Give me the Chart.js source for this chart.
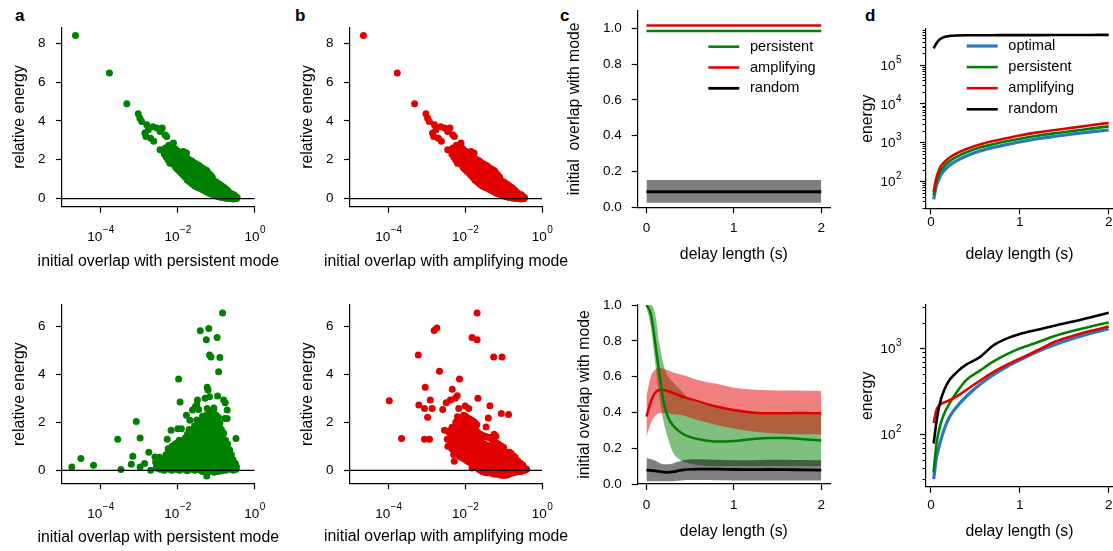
<!DOCTYPE html>
<html><head><meta charset="utf-8"><title>overlap and energy</title>
<script src="https://cdn.jsdelivr.net/npm/chart.js"></script>
<style>
html,body{margin:0;padding:0;background:#fff;}
#wrap{position:relative;width:1113px;height:551px;overflow:hidden;background:#fff;}
#wrap canvas{position:absolute;left:0;top:0;}
.t{position:absolute;font-family:"Liberation Sans",Arial,sans-serif;color:#000;line-height:20px;white-space:nowrap;}
.p{font-weight:bold;font-size:17px;}
</style></head><body>
<div id="wrap">
<div class="t p" style="left:15px;top:6px">a</div>
<div class="t p" style="left:295px;top:6px">b</div>
<div class="t p" style="left:560px;top:6px">c</div>
<div class="t p" style="left:865px;top:6px">d</div>
</div>
<script>
// ---------------- DATA ----------------
// top row scatter (a and b show the same cloud)
const topOverlap = [
2.24e-5,1.7e-4,4.8e-4,9.5e-4,1.05e-3,1.17e-3,1.58e-3,1.74e-3,1.41e-3,1.51e-3,
2.9e-3,3.5e-3,4.0e-3,4.7e-3,5.2e-3,7.8e-3,3.5e-3,5.2e-3,6.3e-3,6.3e-3,
1.41e-2,1.7e-2,2.3e-3,2.0e-3,2.4e-3,
4.5e-3,4.8e-3,
5.6e-3,5.4e-3,5.9e-3,
7.1e-3,6.8e-3,7.4e-3,
8.9e-3,8.5e-3,9.3e-3,8.7e-3,
1.12e-2,1.08e-2,1.16e-2,1.1e-2,
1.41e-2,1.36e-2,1.46e-2,1.4e-2,
1.78e-2,1.72e-2,1.84e-2,1.76e-2,1.8e-2,
2.24e-2,2.16e-2,2.3e-2,2.2e-2,2.27e-2,
2.82e-2,2.72e-2,2.9e-2,2.78e-2,2.86e-2,
3.55e-2,3.45e-2,3.65e-2,3.5e-2,3.6e-2,
4.47e-2,4.3e-2,4.6e-2,4.4e-2,4.55e-2,
5.62e-2,5.45e-2,5.8e-2,5.5e-2,5.7e-2,
7.08e-2,6.9e-2,7.3e-2,7.0e-2,7.2e-2,
8.91e-2,8.6e-2,9.2e-2,8.8e-2,
0.112,0.108,0.116,0.11,
0.141,0.136,0.146,0.14,
0.178,0.172,0.184,0.176,
0.224,0.216,0.232,
0.282,0.272,0.29,
0.339,0.35];
const topEnergy = [
8.4,6.46,4.88,4.37,4.14,3.97,3.80,3.54,3.37,3.20,
3.63,3.45,3.63,3.28,3.20,2.86,2.51,2.16,2.68,1.82,
2.42,2.34,3.70,3.10,2.95,
2.3,2.6,
2.0,2.4,2.75,
1.85,2.2,2.55,
1.6,1.95,2.3,2.55,
1.4,1.75,2.1,2.35,
1.2,1.5,1.8,2.1,
0.95,1.3,1.6,1.9,2.05,
0.8,1.1,1.4,1.7,1.95,
0.65,0.95,1.25,1.55,1.8,
0.55,0.8,1.1,1.4,1.7,
0.45,0.7,0.95,1.25,1.55,
0.35,0.6,0.85,1.1,1.45,
0.25,0.5,0.75,1.0,1.2,
0.18,0.4,0.65,0.9,
0.1,0.3,0.55,0.8,
0.06,0.25,0.45,0.65,
0.02,0.18,0.35,0.5,
0.0,0.12,0.28,
-0.02,0.08,0.2,
0.0,0.06];
const topOverlapMore = [
5.0e-3,5.0e-3,
6.3e-3,6.3e-3,6.3e-3,
7.9e-3,7.9e-3,7.9e-3,
1.0e-2,1.0e-2,1.0e-2,1.0e-2,
1.26e-2,1.26e-2,1.26e-2,1.26e-2,
1.58e-2,1.58e-2,1.58e-2,1.58e-2,
2.0e-2,2.0e-2,2.0e-2,2.0e-2,2.0e-2,
2.5e-2,2.5e-2,2.5e-2,2.5e-2,2.5e-2,
3.16e-2,3.16e-2,3.16e-2,3.16e-2,3.16e-2,
4.0e-2,4.0e-2,4.0e-2,4.0e-2,4.0e-2,
5.0e-2,5.0e-2,5.0e-2,5.0e-2,5.0e-2,
6.3e-2,6.3e-2,6.3e-2,6.3e-2,6.3e-2,
7.9e-2,7.9e-2,7.9e-2,7.9e-2,7.9e-2,
0.1,0.1,0.1,0.1,
0.126,0.126,0.126,0.126,
0.158,0.158,0.158,0.158,
0.2,0.2,0.2,0.2,
0.251,0.251,0.251,
0.316,0.316];
const topEnergyMore = [
2.15,2.5,
1.95,2.3,2.6,
1.75,2.1,2.45,
1.5,1.85,2.2,2.45,
1.3,1.65,1.95,2.25,
1.1,1.4,1.7,1.98,
0.88,1.2,1.5,1.8,2.0,
0.72,1.02,1.32,1.62,1.88,
0.6,0.88,1.18,1.48,1.75,
0.5,0.75,1.02,1.32,1.62,
0.4,0.65,0.9,1.18,1.5,
0.3,0.55,0.8,1.05,1.32,
0.22,0.45,0.7,0.95,1.1,
0.14,0.35,0.6,0.85,
0.08,0.28,0.5,0.72,
0.04,0.22,0.4,0.58,
0.01,0.15,0.3,0.42,
-0.01,0.1,0.22,
0.0,0.1];

// bottom row, panel a (persistent)
const botPersOverlap = [
1.8e-5,3.1e-5,6.6e-5,2.8e-4,3.4e-4,8.5e-4,6.9e-4,6.3e-4,1.07e-3,1.07e-3,
1.4e-3,1.8e-3,2.0e-3,2.6e-3,2.9e-3,1.07e-2,1.17e-2,6.8e-3,5.4e-3,1.02e-2,
1.26e-2,1.7e-2,2.1e-2,2.45e-2,2.9e-2,3.3e-2,3.9e-2,6.5e-2,5.6e-2,0.107,
0.148,6.8e-2,7.4e-2,0.126,0.117,5.9e-2,6.2e-2,5.2e-2,6.8e-2,0.11,
0.158,0.174,0.195,0.17,0.195,0.33,3.16e-2,3.55e-2,5.9e-2,8.7e-2,
5.75e-2,
2.8e-3,2.7e-3,
3.5e-3,3.6e-3,3.4e-3,
4.5e-3,4.4e-3,4.6e-3,
5.6e-3,5.8e-3,5.5e-3,5.7e-3,
7.1e-3,6.9e-3,7.3e-3,7.0e-3,7.2e-3,
8.9e-3,9.2e-3,8.7e-3,9.0e-3,8.8e-3,
1.12e-2,1.09e-2,1.15e-2,1.1e-2,1.14e-2,1.11e-2,
1.41e-2,1.45e-2,1.38e-2,1.43e-2,1.4e-2,
1.78e-2,1.74e-2,1.82e-2,1.76e-2,1.8e-2,1.75e-2,1.81e-2,
2.24e-2,2.3e-2,2.18e-2,2.27e-2,2.2e-2,2.26e-2,2.22e-2,
2.82e-2,2.75e-2,2.9e-2,2.78e-2,2.86e-2,2.8e-2,2.84e-2,2.77e-2,
3.55e-2,3.65e-2,3.45e-2,3.6e-2,3.5e-2,3.58e-2,3.52e-2,3.62e-2,
4.47e-2,4.6e-2,4.35e-2,4.55e-2,4.4e-2,4.5e-2,4.42e-2,4.58e-2,4.45e-2,
5.62e-2,5.5e-2,5.75e-2,5.55e-2,5.7e-2,5.6e-2,5.66e-2,5.52e-2,5.72e-2,5.58e-2,
7.08e-2,6.9e-2,7.25e-2,7.0e-2,7.15e-2,6.95e-2,7.2e-2,7.05e-2,6.98e-2,7.12e-2,
8.91e-2,8.7e-2,9.1e-2,8.8e-2,9.0e-2,8.75e-2,9.05e-2,8.85e-2,8.95e-2,8.8e-2,
0.112,0.109,0.115,0.11,0.114,0.111,0.113,0.108,0.116,
0.141,0.145,0.137,0.143,0.139,0.144,0.14,0.138,
0.178,0.172,0.184,0.175,0.181,0.176,
0.224,0.232,0.218,0.228,
0.282,0.29,0.275,
0.331,0.34];
const botPersEnergy = [
0.14,0.49,0.21,1.30,0.04,2.04,0.59,0.25,1.35,0.14,
0.28,0.75,0.0,0.56,0.21,3.81,2.85,1.67,1.30,1.73,
1.73,2.30,2.09,2.51,2.65,2.93,5.82,5.91,5.44,5.54,
6.56,4.81,4.72,4.70,4.11,3.46,3.35,3.0,3.07,3.10,
2.93,2.82,2.51,2.16,2.16,1.33,2.72,2.54,2.58,2.51,
-0.24,
0.1,0.35,
0.05,0.3,0.55,
0.0,0.25,0.5,
0.1,0.35,0.6,0.9,
0.0,0.2,0.45,0.75,1.0,
0.05,0.3,0.55,0.8,1.1,
0.0,0.2,0.45,0.7,1.0,1.25,
0.05,0.3,0.55,0.85,1.1,
-0.02,0.2,0.45,0.7,0.95,1.2,1.5,
0.05,0.3,0.55,0.8,1.05,1.35,1.6,
0.0,0.2,0.45,0.7,0.95,1.2,1.5,1.85,
0.05,0.3,0.55,0.8,1.05,1.3,1.6,2.0,
-0.05,0.15,0.4,0.65,0.9,1.15,1.4,1.7,2.25,
-0.1,0.1,0.35,0.6,0.85,1.1,1.35,1.6,1.9,2.3,
-0.05,0.2,0.45,0.7,0.95,1.2,1.5,1.8,2.1,2.45,
-0.08,0.1,0.35,0.6,0.85,1.1,1.4,1.7,2.0,2.6,
-0.05,0.2,0.45,0.7,0.95,1.2,1.5,1.8,2.2,
-0.03,0.15,0.4,0.65,0.9,1.15,1.45,1.7,
0.0,0.25,0.5,0.75,1.0,1.25,
0.05,0.3,0.55,0.85,
0.0,0.2,0.45,
0.05,0.15];
const botPersOverlapMore = [
3.16e-3,3.16e-3,
3.98e-3,3.98e-3,
5.0e-3,5.0e-3,5.0e-3,
6.3e-3,6.3e-3,6.3e-3,6.3e-3,
7.9e-3,7.9e-3,7.9e-3,7.9e-3,
1.0e-2,1.0e-2,1.0e-2,1.0e-2,1.0e-2,
1.26e-2,1.26e-2,1.26e-2,1.26e-2,1.26e-2,
1.58e-2,1.58e-2,1.58e-2,1.58e-2,1.58e-2,1.58e-2,
2.0e-2,2.0e-2,2.0e-2,2.0e-2,2.0e-2,2.0e-2,2.0e-2,
2.5e-2,2.5e-2,2.5e-2,2.5e-2,2.5e-2,2.5e-2,2.5e-2,
3.16e-2,3.16e-2,3.16e-2,3.16e-2,3.16e-2,3.16e-2,3.16e-2,3.16e-2,
4.0e-2,4.0e-2,4.0e-2,4.0e-2,4.0e-2,4.0e-2,4.0e-2,4.0e-2,
5.0e-2,5.0e-2,5.0e-2,5.0e-2,5.0e-2,5.0e-2,5.0e-2,5.0e-2,5.0e-2,
6.3e-2,6.3e-2,6.3e-2,6.3e-2,6.3e-2,6.3e-2,6.3e-2,6.3e-2,6.3e-2,
7.9e-2,7.9e-2,7.9e-2,7.9e-2,7.9e-2,7.9e-2,7.9e-2,7.9e-2,7.9e-2,
0.1,0.1,0.1,0.1,0.1,0.1,0.1,0.1,0.1,
0.126,0.126,0.126,0.126,0.126,0.126,0.126,0.126,
0.158,0.158,0.158,0.158,0.158,0.158,0.158,
0.2,0.2,0.2,0.2,0.2,
0.251,0.251,0.251,
0.316,0.316];
const botPersEnergyMore = [
0.2,0.45,
0.15,0.4,
0.12,0.38,0.65,
0.05,0.3,0.55,0.8,
0.15,0.4,0.65,0.92,
0.1,0.35,0.6,0.85,1.15,
0.15,0.4,0.65,0.95,1.2,
0.1,0.35,0.6,0.85,1.1,1.35,
0.1,0.35,0.6,0.85,1.1,1.4,1.7,
0.15,0.4,0.65,0.9,1.15,1.4,1.7,
0.1,0.35,0.6,0.85,1.1,1.35,1.7,2.1,
0.0,0.25,0.5,0.75,1.0,1.25,1.5,1.85,
0.0,0.25,0.5,0.75,1.0,1.25,1.5,1.8,2.1,
0.0,0.22,0.48,0.72,0.98,1.22,1.48,1.75,2.05,
0.05,0.3,0.55,0.8,1.05,1.3,1.6,1.9,2.25,
0.0,0.22,0.48,0.72,0.98,1.25,1.55,1.85,2.3,
0.05,0.3,0.55,0.8,1.05,1.3,1.6,1.95,
0.05,0.28,0.52,0.78,1.02,1.3,1.55,
0.12,0.38,0.62,0.9,1.1,
0.15,0.4,0.65,
0.1,0.3];

// bottom row, panel b (amplifying)
const botAmpOverlap = [
1.05e-4,2.2e-4,6.0e-4,6.2e-4,9.1e-4,8.7e-4,1.38e-3,1.23e-3,1.05e-3,8.7e-4,
1.17e-3,1.55e-3,1.82e-3,2.14e-3,2.6e-3,3.2e-3,4.1e-3,5.5e-3,6.2e-3,4.6e-3,
7.1e-3,2.9e-3,1.51e-2,2.04e-2,2.04e-2,5.5e-2,9.1e-2,2.14e-2,4.4e-2,8.7e-2,
0.135,4.0e-2,3.5e-2,1.0e-2,1.23e-2,6.8e-3,6.3e-3,5.0e-3,5.2e-3,1.51e-2,
3.55e-3,3.4e-3,3.7e-3,
4.47e-3,4.6e-3,4.35e-3,4.55e-3,
5.62e-3,5.5e-3,5.75e-3,5.55e-3,5.7e-3,
7.08e-3,7.25e-3,6.9e-3,7.15e-3,7.0e-3,7.2e-3,
8.91e-3,8.7e-3,9.1e-3,8.8e-3,9.0e-3,8.75e-3,9.05e-3,
1.12e-2,1.15e-2,1.09e-2,1.14e-2,1.1e-2,1.13e-2,1.11e-2,
1.41e-2,1.37e-2,1.45e-2,1.39e-2,1.43e-2,1.4e-2,1.44e-2,
1.78e-2,1.83e-2,1.73e-2,1.8e-2,1.75e-2,1.81e-2,1.76e-2,
2.24e-2,2.18e-2,2.3e-2,2.2e-2,2.27e-2,2.22e-2,
2.82e-2,2.9e-2,2.75e-2,2.86e-2,2.78e-2,2.84e-2,
3.55e-2,3.45e-2,3.65e-2,3.5e-2,3.6e-2,3.52e-2,
4.47e-2,4.6e-2,4.35e-2,4.55e-2,4.4e-2,4.5e-2,
5.62e-2,5.5e-2,5.75e-2,5.55e-2,5.7e-2,5.6e-2,5.66e-2,
7.08e-2,7.25e-2,6.9e-2,7.15e-2,7.0e-2,7.2e-2,
8.91e-2,8.7e-2,9.1e-2,8.8e-2,9.0e-2,8.75e-2,
0.112,0.115,0.109,0.114,0.11,
0.141,0.137,0.145,0.139,0.143,
0.178,0.184,0.172,0.181,
0.224,0.218,0.23,
0.282,0.29,0.275,
0.355,0.345,
0.398];
const botAmpEnergy = [
2.90,1.33,4.81,2.72,3.46,2.58,2.58,2.93,2.21,1.30,
1.30,5.83,5.93,4.13,2.54,2.82,2.93,3.0,3.11,3.38,
3.81,1.67,5.54,5.44,6.56,4.72,4.72,3.0,2.69,2.37,
2.33,2.18,1.81,2.68,2.58,2.58,2.23,0.66,0.38,0.10,
1.0,1.3,1.6,
0.9,1.2,1.5,1.8,
0.75,1.05,1.35,1.65,2.0,
0.6,0.9,1.2,1.5,1.8,2.2,
0.5,0.8,1.1,1.4,1.7,2.0,2.3,
0.4,0.7,1.0,1.3,1.6,1.9,2.2,
0.3,0.6,0.9,1.2,1.5,1.8,2.1,
0.2,0.5,0.8,1.1,1.4,1.7,2.0,
0.05,0.35,0.65,0.95,1.25,1.55,
-0.05,0.25,0.55,0.85,1.15,1.45,
-0.1,0.15,0.45,0.75,1.05,1.4,
-0.1,0.15,0.4,0.7,1.0,1.35,
-0.15,0.1,0.35,0.6,0.9,1.2,1.5,
-0.15,0.1,0.35,0.6,0.85,1.1,
-0.2,0.05,0.3,0.55,0.8,1.0,
-0.2,0.0,0.25,0.5,0.75,
-0.15,0.05,0.3,0.55,0.75,
-0.1,0.1,0.35,0.6,
-0.05,0.15,0.4,
-0.05,0.15,0.3,
0.0,0.1,
0.05];
const botAmpOverlapMore = [
3.98e-3,3.98e-3,3.98e-3,
5.0e-3,5.0e-3,5.0e-3,5.0e-3,
6.3e-3,6.3e-3,6.3e-3,6.3e-3,6.3e-3,
7.9e-3,7.9e-3,7.9e-3,7.9e-3,7.9e-3,7.9e-3,
1.0e-2,1.0e-2,1.0e-2,1.0e-2,1.0e-2,1.0e-2,1.0e-2,
1.26e-2,1.26e-2,1.26e-2,1.26e-2,1.26e-2,1.26e-2,1.26e-2,
1.58e-2,1.58e-2,1.58e-2,1.58e-2,1.58e-2,1.58e-2,1.58e-2,
2.0e-2,2.0e-2,2.0e-2,2.0e-2,2.0e-2,2.0e-2,2.0e-2,
2.5e-2,2.5e-2,2.5e-2,2.5e-2,2.5e-2,2.5e-2,
3.16e-2,3.16e-2,3.16e-2,3.16e-2,3.16e-2,3.16e-2,
4.0e-2,4.0e-2,4.0e-2,4.0e-2,4.0e-2,4.0e-2,
5.0e-2,5.0e-2,5.0e-2,5.0e-2,5.0e-2,5.0e-2,
6.3e-2,6.3e-2,6.3e-2,6.3e-2,6.3e-2,6.3e-2,6.3e-2,
7.9e-2,7.9e-2,7.9e-2,7.9e-2,7.9e-2,7.9e-2,
0.1,0.1,0.1,0.1,0.1,0.1,
0.126,0.126,0.126,0.126,0.126,
0.158,0.158,0.158,0.158,0.158,
0.2,0.2,0.2,0.2,
0.251,0.251,0.251,
0.316,0.316,0.316];
const botAmpEnergyMore = [
1.05,1.35,1.65,
0.85,1.15,1.45,1.8,
0.7,1.0,1.3,1.6,1.9,
0.55,0.85,1.15,1.45,1.75,2.1,
0.45,0.75,1.05,1.35,1.65,1.95,2.25,
0.35,0.65,0.95,1.25,1.55,1.85,2.15,
0.25,0.55,0.85,1.15,1.45,1.75,2.05,
0.12,0.42,0.72,1.02,1.32,1.62,1.9,
0.0,0.3,0.6,0.9,1.2,1.5,
-0.08,0.2,0.5,0.8,1.1,1.42,
-0.1,0.15,0.42,0.72,1.02,1.38,
-0.12,0.12,0.38,0.65,0.95,1.28,
-0.15,0.1,0.35,0.6,0.88,1.15,1.42,
-0.18,0.08,0.32,0.58,0.82,1.05,
-0.2,0.02,0.28,0.52,0.78,0.95,
-0.18,0.02,0.28,0.52,0.75,
-0.12,0.08,0.32,0.55,0.7,
-0.08,0.12,0.35,0.55,
-0.05,0.12,0.32,
-0.02,0.12,0.22];

// panel c, top: initial overlap with mode vs delay
const delayTopC = [0, 2];
const persTopC = [0.985, 0.985];
const ampTopC = [1.015, 1.015];
const randTopC = [0.087, 0.087];
const randTopHiC = [0.152, 0.152];
const randTopLoC = [0.026, 0.026];

// panel c, bottom
const delayC = [0,0.05,0.1,0.15,0.2,0.25,0.3,0.4,0.5,0.6,0.8,1.0,1.2,1.4,1.6,1.8,2.0];
const persMeanC = [1.0,0.95,0.79,0.61,0.45,0.37,0.33,0.285,0.262,0.25,0.237,0.24,0.25,0.257,0.257,0.25,0.243];
const persHiC = [1.0,1.0,0.95,0.78,0.66,0.6,0.57,0.52,0.47,0.45,0.43,0.41,0.405,0.4,0.4,0.395,0.39];
const persLoC = [0.99,0.88,0.68,0.48,0.34,0.25,0.18,0.13,0.115,0.105,0.1,0.1,0.1,0.1,0.1,0.1,0.1];
const ampMeanC = [0.376,0.46,0.51,0.525,0.525,0.518,0.51,0.49,0.475,0.46,0.433,0.413,0.40,0.395,0.395,0.397,0.395];
const ampHiC = [0.49,0.6,0.64,0.648,0.643,0.635,0.625,0.61,0.595,0.58,0.56,0.538,0.528,0.524,0.522,0.521,0.52];
const ampLoC = [0.264,0.34,0.38,0.395,0.397,0.395,0.39,0.385,0.37,0.355,0.33,0.31,0.295,0.285,0.28,0.278,0.277];
const randMeanC = [0.078,0.076,0.073,0.07,0.066,0.065,0.068,0.077,0.082,0.083,0.083,0.081,0.08,0.081,0.08,0.079,0.078];
const randHiC = [0.145,0.14,0.13,0.118,0.11,0.11,0.115,0.13,0.138,0.138,0.135,0.133,0.132,0.135,0.136,0.134,0.132];
const randLoC = [0.015,0.015,0.015,0.015,0.015,0.015,0.016,0.02,0.022,0.022,0.021,0.02,0.02,0.02,0.02,0.02,0.02];

// panel d: energy vs delay
const delayD = [0.03,0.06,0.1,0.15,0.21,0.3,0.4,0.55,0.7,0.85,1.0,1.2,1.4,1.6,1.8,2.0];
const optTopD = [34,75,130,190,260,350,450,600,740,880,1040,1250,1450,1660,1880,2100];
const persTopD = [44,95,170,245,330,440,560,740,900,1070,1250,1500,1740,1990,2280,2600];
const ampTopD = [53,120,220,310,410,540,680,890,1090,1290,1520,1820,2110,2420,2780,3200];
const randTopD = [2.7e5,3.6e5,4.6e5,5.3e5,5.65e5,5.8e5,5.85e5,5.87e5,5.88e5,5.9e5,5.9e5,5.92e5,5.93e5,5.95e5,5.97e5,6.0e5];
const optBotD = [30,52,78,115,160,215,277,380,490,610,730,920,1110,1300,1500,1700];
const persBotD = [36,75,123,175,230,320,430,550,700,850,1000,1180,1400,1600,1800,2000];
const ampBotD = [135,190,220,235,250,280,330,420,530,640,760,950,1200,1400,1600,1800];
const randBotD = [78,135,230,330,430,540,650,790,1080,1300,1470,1650,1850,2050,2300,2600];

// tick values and labels
const overlapTicks = [1e-4, 1e-2, 1];
const energyTicksTop = [0, 2, 4, 6, 8];
const energyTicksBottom = [0, 2, 4, 6];
const fracTicks = [0, 0.2, 0.4, 0.6, 0.8, 1.0];
const delayTicks = [0, 1, 2];
const energyTicksDTop = [1e2, 1e3, 1e4, 1e5];
const energyTicksDBottom = [1e2, 1e3];
const namesC = ['persistent', 'amplifying', 'random'];
const namesD = ['optimal', 'persistent', 'amplifying', 'random'];

// ---------------- STYLE ----------------
const FONT = '"Liberation Sans", Arial, Helvetica, sans-serif';
Chart.defaults.font.family = FONT;
Chart.defaults.color = '#000';
const GREEN = '#008000', RED = '#e10000', BLUE = '#2a7ab9', BLACK = '#000000';
const RED_BAND = 'rgba(225,0,0,0.5)', GREEN_BAND = 'rgba(0,128,0,0.5)', GRAY_BAND = 'rgba(0,0,0,0.5)';

const wrap = document.getElementById('wrap');
const pts = (xs, ys) => xs.map((x, i) => ({x: x, y: ys[i]}));

function axis(o) {
  return {
    type: o.type || 'linear',
    min: o.min, max: o.max,
    afterBuildTicks: s => { s.ticks = o.ticks.map(v => ({value: v})); },
    afterFit: s => {
      if (o.pos === 'x') { s.height = o.size; s.paddingLeft = 0; s.paddingRight = 0; }
      else { s.width = o.size; s.paddingTop = 0; s.paddingBottom = 0; }
    },
    ticks: {display: o.fmt !== null, font: {size: 13.5}, color: '#000', padding: o.pad || 0, autoSkip: false, maxRotation: 0, minRotation: 0, callback: o.fmt || (v => String(v))},
    grid: {display: true, drawOnChartArea: false, drawTicks: true, tickLength: 6, tickWidth: 1.2, tickColor: '#000', color: '#000'},
    border: {display: true, color: '#000', width: 1.2},
    title: {display: o.title !== null, text: o.title || '', font: {size: 15.8}, color: '#000', padding: 0}
  };
}

function make(box, cfg, plugins) {
  const c = document.createElement('canvas');
  c.width = 1113; c.height = 551;
  c.style.width = '1113px'; c.style.height = '551px';
  wrap.appendChild(c);
  cfg.options.responsive = false;
  cfg.options.animation = false;
  cfg.options.devicePixelRatio = 1;
  cfg.options.layout = {padding: {left: box.L - box.W, top: box.T, right: 1113 - box.R, bottom: 551 - box.B - box.H}};
  cfg.options.plugins = {legend: {display: false}, tooltip: {enabled: false}};
  cfg.plugins = plugins || [];
  return new Chart(c, cfg);
}

const zeroLine = {id: 'zeroLine', afterDatasetsDraw(chart) {
  const ctx = chart.ctx, a = chart.chartArea, p = chart.scales.y.getPixelForValue(0);
  ctx.save(); ctx.strokeStyle = '#000'; ctx.lineWidth = 1.3;
  ctx.beginPath(); ctx.moveTo(a.left, p); ctx.lineTo(a.right, p); ctx.stroke(); ctx.restore();
}};

const logMinor = {id: 'logMinor', afterDraw(chart) {
  const y = chart.scales.y, ctx = chart.ctx, a = chart.chartArea;
  ctx.save(); ctx.strokeStyle = '#000'; ctx.lineWidth = 1; ctx.beginPath();
  for (let e = Math.floor(Math.log10(y.min)); e <= Math.ceil(Math.log10(y.max)); e++) {
    for (let k = 2; k <= 9; k++) {
      const v = k * Math.pow(10, e);
      if (v < y.min || v > y.max) continue;
      const p = Math.round(y.getPixelForValue(v)) + 0.5;
      ctx.moveTo(a.left, p); ctx.lineTo(a.left - 3.5, p);
    }
  }
  ctx.stroke(); ctx.restore();
}};

// power-of-ten tick labels: "10" with a raised, smaller exponent
function powLabels(axisId, o) {
  return {id: 'powLabels' + axisId, afterDraw(chart) {
    const s = chart.scales[axisId], ctx = chart.ctx, a = chart.chartArea;
    ctx.save(); ctx.fillStyle = '#000'; ctx.textAlign = 'left'; ctx.textBaseline = 'alphabetic';
    s.ticks.forEach(t => {
      const e = Math.round(Math.log10(t.value));
      const es = (e < 0 ? '\u2212' : '') + Math.abs(e);
      ctx.font = '13.5px ' + FONT; const wb = ctx.measureText('10').width;
      ctx.font = '10px ' + FONT; const we = ctx.measureText(es).width;
      let x0, yb;
      if (axisId === 'x') { x0 = s.getPixelForValue(t.value) - (wb + we) / 2; yb = a.bottom + o.base; }
      else { x0 = a.left - o.gap - wb - we; yb = s.getPixelForValue(t.value) + 4.8; }
      ctx.font = '13.5px ' + FONT; ctx.fillText('10', x0, yb);
      ctx.font = '10px ' + FONT; ctx.fillText(es, x0 + wb + 0.5, yb - o.raise);
    });
    ctx.restore();
  }};
}

// wide x-axis titles drawn without width compression
function xTitle(text, y) {
  return {id: 'xTitle', afterDraw(chart) {
    const ctx = chart.ctx, a = chart.chartArea;
    ctx.save(); ctx.fillStyle = '#000'; ctx.font = '15.8px ' + FONT;
    ctx.textAlign = 'center'; ctx.textBaseline = 'middle';
    ctx.fillText(text, (a.left + a.right) / 2, y);
    ctx.restore();
  }};
}

function legendPlugin(cfg) {
  return {id: 'lineLegend', afterDraw(chart) {
    const ctx = chart.ctx;
    ctx.save();
    ctx.font = '14.6px ' + FONT;
    ctx.textBaseline = 'middle'; ctx.textAlign = 'left'; ctx.fillStyle = '#000';
    cfg.items.forEach((it, i) => {
      const y = cfg.y0 + i * cfg.dy;
      ctx.strokeStyle = it.color; ctx.lineWidth = it.width;
      ctx.beginPath(); ctx.moveTo(cfg.x0, y); ctx.lineTo(cfg.x1, y); ctx.stroke();
      ctx.fillText(it.label, cfg.xt, y);
    });
    ctx.restore();
  }};
}

// ---------------- SCATTER PANELS ----------------
function scatterPanel(box, xs, ys, color, yMin, yMax, yTicks, title, titleY, base) {
  make(box, {
    type: 'scatter',
    data: {datasets: [{data: pts(xs, ys), backgroundColor: color, borderWidth: 0, pointRadius: 3.5, pointHoverRadius: 3.5}]},
    options: {scales: {
      x: axis({pos: 'x', type: 'logarithmic', min: 1e-5, max: 1, ticks: overlapTicks, fmt: null, size: box.H, title: null}),
      y: axis({pos: 'y', min: yMin, max: yMax, ticks: yTicks, fmt: v => String(v), pad: 10.5, size: box.W, title: 'relative energy'})
    }}
  }, [zeroLine, powLabels('x', {base: base, raise: 7.5}), xTitle(title, titleY)]);
}
scatterPanel({L: 62, R: 254.7, T: 27.3, B: 206.7, W: 51.5, H: 64.5}, topOverlap.concat(topOverlapMore), topEnergy.concat(topEnergyMore), GREEN, -0.42, 8.82, energyTicksTop, 'initial overlap with persistent mode', 262, 34);
scatterPanel({L: 350, R: 542, T: 27.3, B: 206.7, W: 52, H: 64.5}, topOverlap.concat(topOverlapMore), topEnergy.concat(topEnergyMore), RED, -0.42, 8.82, energyTicksTop, 'initial overlap with amplifying mode', 262, 34);
scatterPanel({L: 62, R: 254.5, T: 305, B: 483.3, W: 51.5, H: 64.5}, botPersOverlap.concat(botPersOverlapMore), botPersEnergy.concat(botPersEnergyMore), GREEN, -0.54, 6.89, energyTicksBottom, 'initial overlap with persistent mode', 538, 34.5);
scatterPanel({L: 350, R: 542, T: 305, B: 483.3, W: 52, H: 64.5}, botAmpOverlap.concat(botAmpOverlapMore), botAmpEnergy.concat(botAmpEnergyMore), RED, -0.54, 6.89, energyTicksBottom, 'initial overlap with amplifying mode', 537, 34.5);

// ---------------- PANEL C ----------------
const lineDs = (xs, ys, color, w, extra) => Object.assign({data: pts(xs, ys), borderColor: color, borderWidth: w, pointRadius: 0, fill: false, cubicInterpolationMode: 'monotone', order: 0}, extra || {});
const bandDs = (xs, ys, fill, color, order) => ({data: pts(xs, ys), borderWidth: 0, borderColor: 'rgba(0,0,0,0)', pointRadius: 0, fill: fill, backgroundColor: color, cubicInterpolationMode: 'monotone', order: order});

function fracScales(box, yTitle, xPad, yMax) {
  return {
    x: axis({pos: 'x', min: -0.1, max: 2.1, ticks: delayTicks, fmt: v => String(v), pad: xPad, size: box.H, title: 'delay length (s)'}),
    y: axis({pos: 'y', min: 0, max: yMax, ticks: fracTicks, fmt: v => v.toFixed(1), pad: 10, size: box.W, title: yTitle})
  };
}
// top: y axis runs to 1.1 so the lines drawn just above 1.0 stay visible
const boxC1 = {L: 637.7, R: 830, T: 10.4, B: 207.3, W: 72.2, H: 57.2};
make(boxC1, {
  type: 'line',
  data: {datasets: [
    lineDs(delayTopC, persTopC, GREEN, 2.5),
    lineDs(delayTopC, ampTopC, RED, 2.5),
    lineDs(delayTopC, randTopC, BLACK, 2.8),
    bandDs(delayTopC, randTopHiC, '+1', GRAY_BAND, 1),
    bandDs(delayTopC, randTopLoC, false, 'rgba(0,0,0,0)', 1)
  ]},
  options: {scales: fracScales(boxC1, 'initial  overlap with mode', 7, 1.1)}
}, [legendPlugin({x0: 708.3, x1: 739.3, xt: 750, y0: 46.7, dy: 20.8, items: [
  {label: namesC[0], color: GREEN, width: 2.5}, {label: namesC[1], color: RED, width: 2.5}, {label: namesC[2], color: BLACK, width: 2.8}]})]);

const boxC2 = {L: 637.7, R: 830, T: 305, B: 484, W: 62.2, H: 57.2};
make(boxC2, {
  type: 'line',
  data: {datasets: [
    lineDs(delayC, persMeanC, GREEN, 2.5),
    lineDs(delayC, ampMeanC, RED, 2.5),
    lineDs(delayC, randMeanC, BLACK, 2.8),
    bandDs(delayC, randHiC, '+1', GRAY_BAND, 1),
    bandDs(delayC, randLoC, false, 'rgba(0,0,0,0)', 1),
    bandDs(delayC, ampHiC, '+1', RED_BAND, 2),
    bandDs(delayC, ampLoC, false, 'rgba(0,0,0,0)', 2),
    bandDs(delayC, persHiC, '+1', GREEN_BAND, 3),
    bandDs(delayC, persLoC, false, 'rgba(0,0,0,0)', 3)
  ]},
  options: {scales: fracScales(boxC2, 'initial overlap with mode', 7.6, 1)}
});

// ---------------- PANEL D ----------------
function energyScales(box, yMin, yMax, yTicks, xPad) {
  return {
    x: axis({pos: 'x', min: -0.056, max: 2.048, ticks: delayTicks, fmt: v => String(v), pad: xPad, size: box.H, title: 'delay length (s)'}),
    y: axis({pos: 'y', type: 'logarithmic', min: yMin, max: yMax, ticks: yTicks, fmt: null, size: box.W, title: 'energy'})
  };
}
const boxD1 = {L: 926, R: 1113, T: 29, B: 208.3, W: 68, H: 56.2};
make(boxD1, {
  type: 'line',
  data: {datasets: [
    lineDs(delayD, randTopD, BLACK, 2.6, {order: 1}),
    lineDs(delayD, ampTopD, RED, 2.6, {order: 2}),
    lineDs(delayD, persTopD, GREEN, 2.6, {order: 3}),
    lineDs(delayD, optTopD, BLUE, 3.2, {order: 4})
  ]},
  options: {scales: energyScales(boxD1, 20, 8.5e5, energyTicksDTop, 0)}
}, [logMinor, powLabels('y', {gap: 25, raise: 7}), legendPlugin({x0: 966.7, x1: 997.7, xt: 1008.3, y0: 46, dy: 21.1, items: [
  {label: namesD[0], color: BLUE, width: 3.2}, {label: namesD[1], color: GREEN, width: 2.6},
  {label: namesD[2], color: RED, width: 2.6}, {label: namesD[3], color: BLACK, width: 2.6}]})]);

const boxD2 = {L: 926, R: 1113, T: 305, B: 486.7, W: 68, H: 54.5};
make(boxD2, {
  type: 'line',
  data: {datasets: [
    lineDs(delayD, randBotD, BLACK, 2.6, {order: 1}),
    lineDs(delayD, ampBotD, RED, 2.6, {order: 2}),
    lineDs(delayD, persBotD, GREEN, 2.6, {order: 3}),
    lineDs(delayD, optBotD, BLUE, 3.2, {order: 4})
  ]},
  options: {scales: energyScales(boxD2, 24.5, 3200, energyTicksDBottom, 4.5)}
}, [logMinor, powLabels('y', {gap: 25, raise: 7})]);
</script>
</body></html>
